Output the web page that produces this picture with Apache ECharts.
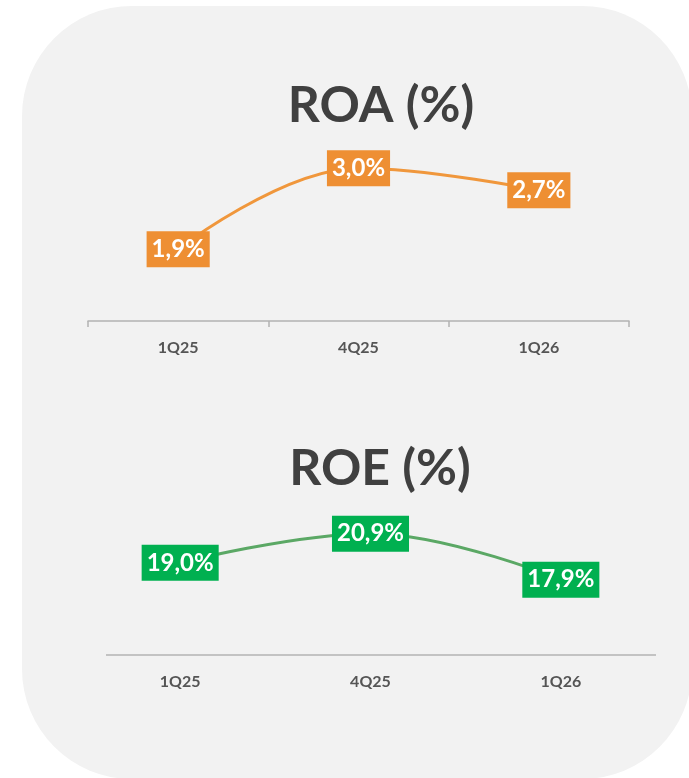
<!DOCTYPE html>
<html>
<head>
<meta charset="utf-8">
<style>
  html, body { margin: 0; padding: 0; background: #ffffff; }
  #chart { width: 689px; height: 778px; }
</style>
<script src="https://cdn.jsdelivr.net/npm/echarts@6/dist/echarts.min.js"></script>
</head>
<body>
<div id="chart"></div>
<script>
// quarters shown on both panels
const quarters = ["1Q25", "4Q25", "1Q26"];
const roaValues = [1.9, 3.0, 2.7];
const roeValues = [19.0, 20.9, 17.9];

(function () {
  "use strict";

  const el = document.getElementById("chart");
  const chart = echarts.init(el, null, { renderer: "canvas" });

  const ink = "#404040";
  const axisInk = "#555555";
  const hairline = "#b3b3b3";
  const orange = "#ee8f33";
  const orangeLine = "#f0973c";
  const green = "#00b050";
  const greenLine = "#5ba865";
  const font = "Lato, 'Noto Sans', sans-serif";

  function pct(p) {
    return p.value.toFixed(1).replace(".", ",") + "%";
  }

  function boxLabel(bg) {
    return {
      show: true,
      position: "inside",
      formatter: pct,
      color: "#ffffff",
      fontFamily: font,
      fontWeight: "bold",
      fontSize: 24,
      lineHeight: 24,
      backgroundColor: bg,
      padding: [6, 5, 6, 5],
    };
  }

  function catAxis(gridIndex, ticks, line) {
    return {
      type: "category",
      gridIndex: gridIndex,
      data: quarters,
      boundaryGap: true,
      axisLine: { show: line, lineStyle: { color: hairline, width: 1.5 } },
      axisTick: { show: ticks, length: 6, lineStyle: { color: hairline, width: 1.5 } },
      splitLine: { show: false },
      axisLabel: {
        color: axisInk, fontFamily: font, fontWeight: "bold", fontSize: 16, margin: 19,
      },
    };
  }

  function valAxis(gridIndex, min, max) {
    return {
      type: "value",
      gridIndex: gridIndex,
      min: min,
      max: max,
      show: false,
      splitLine: { show: false },
    };
  }

  chart.setOption({
    animation: false,
    backgroundColor: "#ffffff",
    graphic: [
      {
        type: "rect", z: -10, silent: true,
        shape: { x: 22, y: 6, width: 670, height: 773, r: 110 },
        style: { fill: "#f2f2f2" },
      },
      {
        // ROE panel baseline (drawn shorter than the plot width, as in the source)
        type: "line", z: 1, silent: true,
        shape: { x1: 106, y1: 655, x2: 656, y2: 655 },
        style: { stroke: hairline, lineWidth: 1.5 },
      },
    ],
    title: [
      {
        text: "ROA (%)", left: 376, top: 76, textAlign: "center",
        textStyle: { color: ink, fontFamily: font, fontWeight: "bold", fontSize: 50, lineHeight: 50 },
      },
      {
        text: "ROE (%)", left: 375, top: 439, textAlign: "center",
        textStyle: { color: ink, fontFamily: font, fontWeight: "bold", fontSize: 50, lineHeight: 50 },
      },
    ],
    grid: [
      { left: 88, width: 541, top: 129, height: 192 },
      { left: 85, width: 571, top: 486, height: 169 },
    ],
    xAxis: [catAxis(0, true, true), catAxis(1, false, false)],
    yAxis: [valAxis(0, 0.93, 3.53), valAxis(1, 13, 24)],
    series: [
      {
        name: "ROA", type: "line", xAxisIndex: 0, yAxisIndex: 0,
        data: roaValues, smooth: 0.4,
        symbol: "circle", symbolSize: 2,
        lineStyle: { color: orangeLine, width: 3 },
        itemStyle: { color: orangeLine },
        label: boxLabel(orange),
        z: 3,
      },
      {
        name: "ROE", type: "line", xAxisIndex: 1, yAxisIndex: 1,
        data: roeValues, smooth: 0.4,
        symbol: "circle", symbolSize: 2,
        lineStyle: { color: greenLine, width: 3 },
        itemStyle: { color: greenLine },
        label: boxLabel(green),
        z: 3,
      },
    ],
  });
})();
</script>
</body>
</html>
